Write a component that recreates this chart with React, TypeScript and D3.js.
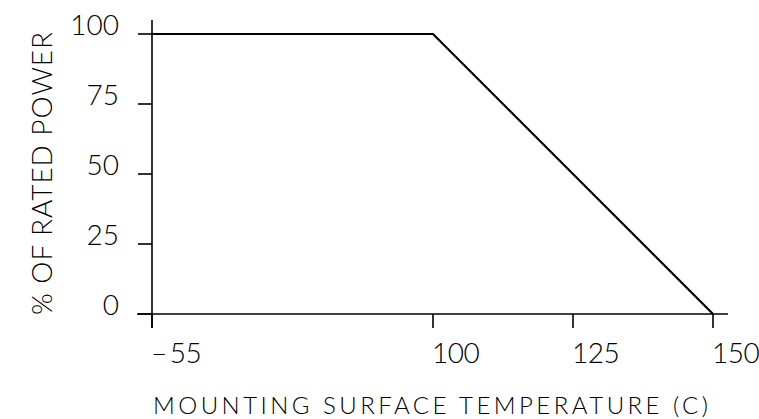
import React from "react";
import * as d3 from "d3";

const W = 759;
const H = 419;

// Derating curve points: temperature (C) -> % of rated power
const temps = [-55, 100, 150];
const power = [100, 100, 0];

const xTicks = [-55, 100, 125, 150];
const xTickLabels = ["55", "100", "125", "150"];
const yTicks = [0, 25, 50, 75, 100];

const xTitle = "MOUNTING SURFACE TEMPERATURE (C)";
const yTitle = "% OF RATED POWER";

export default function App() {
  // broken (piecewise) temperature axis: -55..100 compressed
  const x = d3.scaleLinear().domain([-55, 100, 150]).range([152, 433, 713]);
  const y = d3.scaleLinear().domain([0, 100]).range([314, 34]);

  const pts = temps.map((t, i) => [t, power[i]] as [number, number]);
  const line = d3
    .line<[number, number]>()
    .x((d) => x(d[0]))
    .y((d) => y(d[1]));

  const font = "Lato, 'Liberation Sans', Arial, sans-serif";
  const fw = 300;
  const x0 = x(-55);
  const y0 = y(0);

  return (
    <svg
      width={W}
      height={H}
      viewBox={`0 0 ${W} ${H}`}
      style={{ position: "absolute", left: 0, top: 0, background: "#fff" }}
    >
      <rect width={W} height={H} fill="#fff" />
      {/* axes */}
      <line x1={x0} x2={x0} y1={20} y2={328} stroke="#000" strokeWidth={1.6} />
      <line x1={137} x2={728} y1={y0} y2={y0} stroke="#000" strokeWidth={1.6} />
      {yTicks.map((v) => (
        <g key={"y" + v}>
          <line x1={138} x2={x0} y1={y(v)} y2={y(v)} stroke="#000" strokeWidth={1.6} />
          <text
            x={119}
            y={y(v) + 1}
            textAnchor="end"
            fontFamily={font}
            fontWeight={fw}
            fontSize={28}
            fill="#000"
          >
            {v}
          </text>
        </g>
      ))}
      {xTicks.map((v, i) => (
        <g key={"x" + v}>
          <line x1={x(v)} x2={x(v)} y1={y0} y2={328} stroke="#000" strokeWidth={1.6} />
          <text
            x={x(v) - 1}
            y={363}
            textAnchor="start"
            fontFamily={font}
            fontWeight={fw}
            fontSize={28}
            letterSpacing={-0.5}
            fill="#000"
          >
            {v < 0 ? (
              <>
                <tspan>{"\u2013"}</tspan>
                <tspan dx={3}>{xTickLabels[i]}</tspan>
              </>
            ) : (
              xTickLabels[i]
            )}
          </text>
        </g>
      ))}
      {/* curve */}
      <path d={line(pts) || ""} fill="none" stroke="#000" strokeWidth={2.2} strokeLinejoin="miter" />
      {/* titles */}
      <text
        x={153}
        y={414}
        fontFamily={font}
        fontWeight={fw}
        fontSize={24}
        textLength={555}
        lengthAdjust="spacing"
        fill="#000"
      >
        {xTitle}
      </text>
      <text
        transform={`translate(51.5, 173.5) rotate(-90)`}
        textAnchor="middle"
        fontFamily={font}
        fontWeight={fw}
        fontSize={28}
        textLength={283}
        lengthAdjust="spacing"
        fill="#000"
      >
        {yTitle}
      </text>
    </svg>
  );
}
